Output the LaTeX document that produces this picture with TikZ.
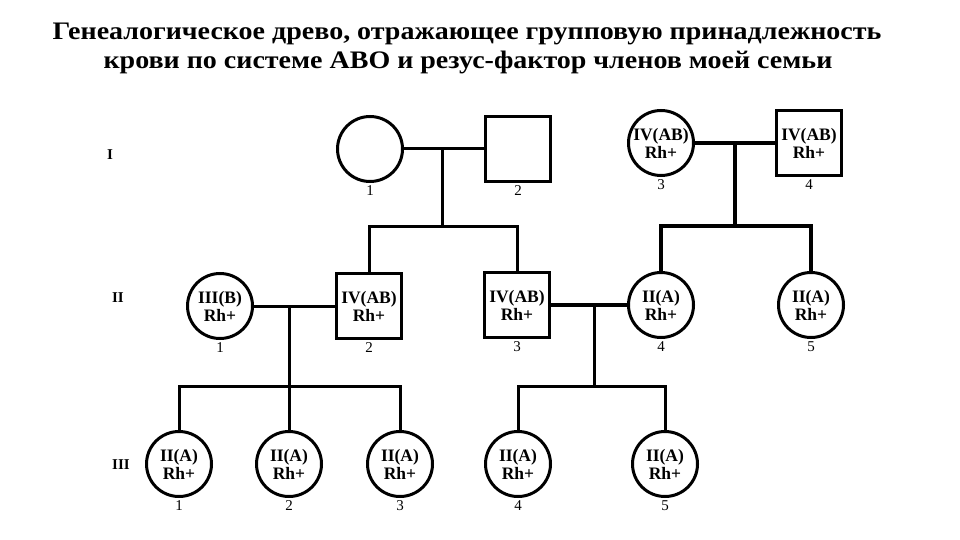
\documentclass[tikz,border=0pt]{standalone}
\usepackage{fontspec}
\setmainfont{Liberation Serif}

\begin{document}
\begin{tikzpicture}[x=1pt, y=-1pt,
    female/.style={circle, draw, line width=3pt, minimum size=65pt, inner sep=0pt,
                   align=center, font=\fontsize{17.5}{18}\selectfont\bfseries},
    male/.style={rectangle, draw, line width=3.5pt, minimum size=65pt, inner sep=0pt,
                 align=center, font=\fontsize{17.5}{18}\selectfont\bfseries},
    num/.style={font=\fontsize{15}{15}\selectfont, inner sep=2pt},
    gen/.style={font=\fontsize{15}{15}\selectfont\bfseries},
    line/.style={line width=3pt}]
    \useasboundingbox (0,0) rectangle (960,540);
    % title
    \node [anchor=base, font=\fontsize{28}{28}\selectfont\bfseries] (title1) at (467,40)
        {\scalebox{1}[0.9]{Генеалогическое древо, отражающее групповую принадлежность}};
    \node [anchor=base, font=\fontsize{28}{28}\selectfont\bfseries] (title2) at (468,69)
        {\scalebox{1}[0.9]{крови по системе АВО и резус-фактор членов моей семьи}};
    % generations
    \node [gen] (g1) at (110,155) {I};
    \node [gen] (g2) at (118,298) {II};
    \node [gen] (g3) at (121,465) {III};
    % generation I
    \node [female, label={[num]below:1}] (f11) at (370,149) {};
    \node [male, label={[num]below:2}] (m12) at (518,149) {};
    \node [female, label={[num]below:3}] (f13) at (661,143) {IV(AB)\\Rh+};
    \node [male, label={[num]below:4}] (m14) at (809,143) {IV(AB)\\Rh+};
    % generation II
    \node [female, label={[num]below:1}] (f21) at (220,306) {III(B)\\Rh+};
    \node [male, label={[num]below:2}] (m22) at (369,306) {IV(AB)\\Rh+};
    \node [male, label={[num]below:3}] (m23) at (517,305) {IV(AB)\\Rh+};
    \node [female, label={[num]below:4}] (f24) at (661,305) {II(A)\\Rh+};
    \node [female, label={[num]below:5}] (f25) at (811,305) {II(A)\\Rh+};
    % generation III
    \node [female, label={[num]below:1}] (f31) at (179,464) {II(A)\\Rh+};
    \node [female, label={[num]below:2}] (f32) at (289,464) {II(A)\\Rh+};
    \node [female, label={[num]below:3}] (f33) at (400,464) {II(A)\\Rh+};
    \node [female, label={[num]below:4}] (f34) at (518,464) {II(A)\\Rh+};
    \node [female, label={[num]below:5}] (f35) at (665,464) {II(A)\\Rh+};
    % couples and sibships
    \coordinate (d1) at (442,149);
    \coordinate (s1) at (442,226);
    \coordinate (d2) at (735,143);
    \coordinate (s2) at (735,226);
    \coordinate (d3) at (289,306);
    \coordinate (s3) at (289,386);
    \coordinate (d4) at (594,305);
    \coordinate (s4) at (594,386);
    \draw [line] (f11) -- (m12);
    \draw [line] (d1) -- (s1);
    \draw [line] (m22) |- (s1) -| (m23);
    \draw [line, line width=3.5pt] (f13) -- (m14);
    \draw [line, line width=3.5pt] (d2) -- (s2);
    \draw [line, line width=3.5pt] (f24) |- (s2) -| (f25);
    \draw [line] (f21) -- (m22);
    \draw [line] (d3) -- (s3);
    \draw [line] (f31) |- (s3) -| (f33);
    \draw [line] (s3) -- (f32);
    \draw [line, line width=3.5pt] (m23) -- (f24);
    \draw [line] (d4) -- (s4);
    \draw [line] (f34) |- (s4) -| (f35);
\end{tikzpicture}
\end{document}
